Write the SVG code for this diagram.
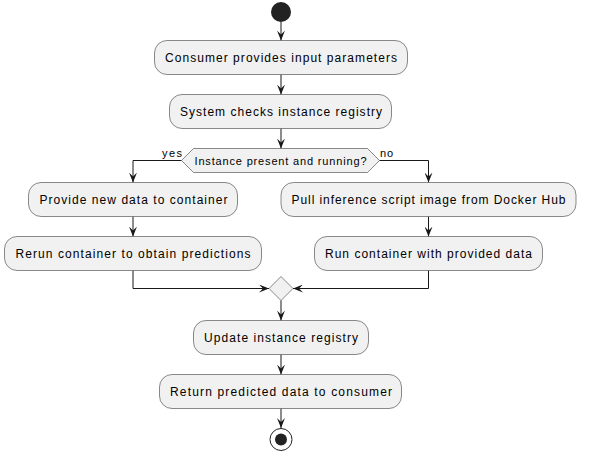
<svg xmlns="http://www.w3.org/2000/svg" width="595" height="461" viewBox="0 0 595 461">
<style>
.box{fill:#F1F1F1;stroke:#181818;stroke-width:0.5}
.t{font-family:"Liberation Sans",Arial,sans-serif;font-size:12px;fill:#000000;text-anchor:middle}
.s{font-family:"Liberation Sans",Arial,sans-serif;font-size:11px;fill:#000000}
.e{fill:none;stroke:#181818;stroke-width:1}
</style>
<defs>
<marker id="ah" viewBox="0 0 10 8" refX="10" refY="4" markerWidth="10" markerHeight="8" markerUnits="userSpaceOnUse" orient="auto">
<path d="M0,0 L10,4 L0,8 L4,4 Z" fill="#181818"/>
</marker>
</defs>
<rect width="595" height="461" fill="#FFFFFF"/>
<g id="connectors">
<path class="e" d="M281,22 V40.5" marker-end="url(#ah)"/>
<path class="e" d="M281,74.5 V94.5" marker-end="url(#ah)"/>
<path class="e" d="M281,128.5 V148.5" marker-end="url(#ah)"/>
<path class="e" d="M181.5,160.5 H133 V182.5" marker-end="url(#ah)"/>
<path class="e" d="M379.5,160.5 H428.5 V182.5" marker-end="url(#ah)"/>
<path class="e" d="M133,216.5 V236.5" marker-end="url(#ah)"/>
<path class="e" d="M428.5,216.5 V236.5" marker-end="url(#ah)"/>
<path class="e" d="M133,270.5 V288.5 H269" marker-end="url(#ah)"/>
<path class="e" d="M428.5,270.5 V288.5 H293" marker-end="url(#ah)"/>
<path class="e" d="M281,300.5 V320.5" marker-end="url(#ah)"/>
<path class="e" d="M281,354.5 V374.5" marker-end="url(#ah)"/>
<path class="e" d="M281,408.5 V428" marker-end="url(#ah)"/>
<text class="s" x="162" y="157" textLength="20">yes</text>
<text class="s" x="380" y="157" textLength="13">no</text>
</g>
<g id="start"><circle cx="281" cy="12" r="10" fill="#222222"/></g>
<g id="n1"><rect class="box" x="154.5" y="40.5" width="253" height="34" rx="12.5"/><text class="t" x="281" y="62" textLength="232">Consumer provides input parameters</text></g>
<g id="n2"><rect class="box" x="169.5" y="94.5" width="222" height="34" rx="12.5"/><text class="t" x="281" y="116" textLength="202">System checks instance registry</text></g>
<g id="d1"><polygon class="box" points="181.5,160.5 193.5,148.5 367.5,148.5 379.5,160.5 367.5,172.5 193.5,172.5"/><text class="s" x="280.5" y="164.5" text-anchor="middle" textLength="172">Instance present and running?</text></g>
<g id="n3"><rect class="box" x="28.5" y="182.5" width="209" height="34" rx="12.5"/><text class="t" x="133.5" y="204" textLength="188">Provide new data to container</text></g>
<g id="n4"><rect class="box" x="4.5" y="236.5" width="257" height="34" rx="12.5"/><text class="t" x="133" y="258" textLength="235">Rerun container to obtain predictions</text></g>
<g id="n5"><rect class="box" x="281" y="182.5" width="295" height="34" rx="12.5"/><text class="t" x="428.5" y="204" textLength="274">Pull inference script image from Docker Hub</text></g>
<g id="n6"><rect class="box" x="314.5" y="236.5" width="228" height="34" rx="12.5"/><text class="t" x="428.5" y="258" textLength="207">Run container with provided data</text></g>
<g id="m1"><polygon class="box" points="281,276.5 293,288.5 281,300.5 269,288.5"/></g>
<g id="n7"><rect class="box" x="193.5" y="320.5" width="175" height="34" rx="12.5"/><text class="t" x="281" y="342" textLength="154">Update instance registry</text></g>
<g id="n8"><rect class="box" x="159.5" y="374.5" width="242" height="34" rx="12.5"/><text class="t" x="281" y="396" textLength="222">Return predicted data to consumer</text></g>
<g id="end"><circle cx="281" cy="439.5" r="11" fill="#FFFFFF" stroke="#222222" stroke-width="1"/><circle cx="281" cy="439.5" r="6" fill="#222222"/></g>
</svg>
